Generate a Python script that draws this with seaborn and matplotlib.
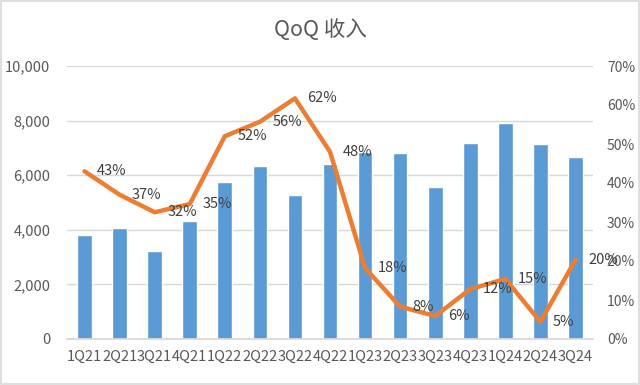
import matplotlib
matplotlib.use("Agg")
import matplotlib.pyplot as plt
import matplotlib.ticker as mticker
import seaborn as sns
import pandas as pd

# data
quarters = ["1Q21", "2Q21", "3Q21", "4Q21", "1Q22", "2Q22", "3Q22", "4Q22",
            "1Q23", "2Q23", "3Q23", "4Q23", "1Q24", "2Q24", "3Q24"]
revenue = [3810, 4055, 3240, 4320, 5760, 6340, 5275, 6400,
           6850, 6825, 5580, 7170, 7900, 7145, 6680]
qoq_growth = [0.43, 0.37, 0.325, 0.346, 0.52, 0.557, 0.617, 0.48,
              0.182, 0.083, 0.059, 0.128, 0.154, 0.044, 0.203]
growth_labels = ["43%", "37%", "32%", "35%", "52%", "56%", "62%", "48%",
                 "18%", "8%", "6%", "12%", "15%", "5%", "20%"]

df = pd.DataFrame({"quarter": quarters, "revenue": revenue, "growth": qoq_growth})

sns.set_theme(style="white")
plt.rcParams["font.family"] = ["Noto Sans CJK SC", "DejaVu Sans"]

bar_color = "#5B9BD5"
line_color = "#ED7D31"
text_grey = "#595959"

fig = plt.figure(figsize=(6.4, 3.85), dpi=100)
ax = fig.add_axes([67 / 640, 1 - 339 / 385, (593 - 67) / 640, (339 - 66) / 385])

sns.barplot(data=df, x="quarter", y="revenue", color=bar_color,
            width=0.42, saturation=1, ax=ax, zorder=2)
ax.set_ylim(0, 10000)
ax.set_yticks(range(0, 10001, 2000))
ax.yaxis.set_major_formatter(mticker.FuncFormatter(lambda v, p: f"{int(v):,}"))
ax.grid(axis="y", color="#D9D9D9", linewidth=1, zorder=0)
ax.set_axisbelow(True)
ax.set_xlabel("")
ax.set_ylabel("")
for s in ["top", "left", "right"]:
    ax.spines[s].set_visible(False)
ax.spines["bottom"].set_color("#D9D9D9")
ax.tick_params(axis="y", length=0, colors=text_grey, labelsize=10.5, pad=12)
ax.tick_params(axis="x", length=0, colors=text_grey, labelsize=10.5, pad=8)
ax.set_xlim(-0.5, len(quarters) - 0.5)

ax2 = ax.twinx()
sns.lineplot(data=df, x="quarter", y="growth", color=line_color,
             linewidth=3.2, sort=False, ax=ax2, zorder=3)
ax2.set_ylim(0, 0.7)
ax2.set_yticks([i / 10 for i in range(8)])
ax2.yaxis.set_major_formatter(mticker.PercentFormatter(1.0, decimals=0))
ax2.set_ylabel("")
for s in ["top", "left", "right", "bottom"]:
    ax2.spines[s].set_visible(False)
ax2.tick_params(axis="y", length=0, colors=text_grey, labelsize=10, pad=10)

for i, (g, lab) in enumerate(zip(qoq_growth, growth_labels)):
    ax2.annotate(lab, (i, g), xytext=(9, 0), textcoords="offset points",
                 ha="left", va="center", fontsize=10.5, color="#404040")

fig.text(0.5, 1 - 30 / 385, "QoQ 收入", ha="center", va="center",
         fontsize=15.5, color=text_grey)

# thin grey chart border like the spreadsheet frame
fig.patches.append(plt.Rectangle((0.002, 0.003), 0.996, 0.994, transform=fig.transFigure,
                                 fill=False, edgecolor="#D9D9D9", linewidth=1.2))

fig.savefig("out.png", dpi=100)
